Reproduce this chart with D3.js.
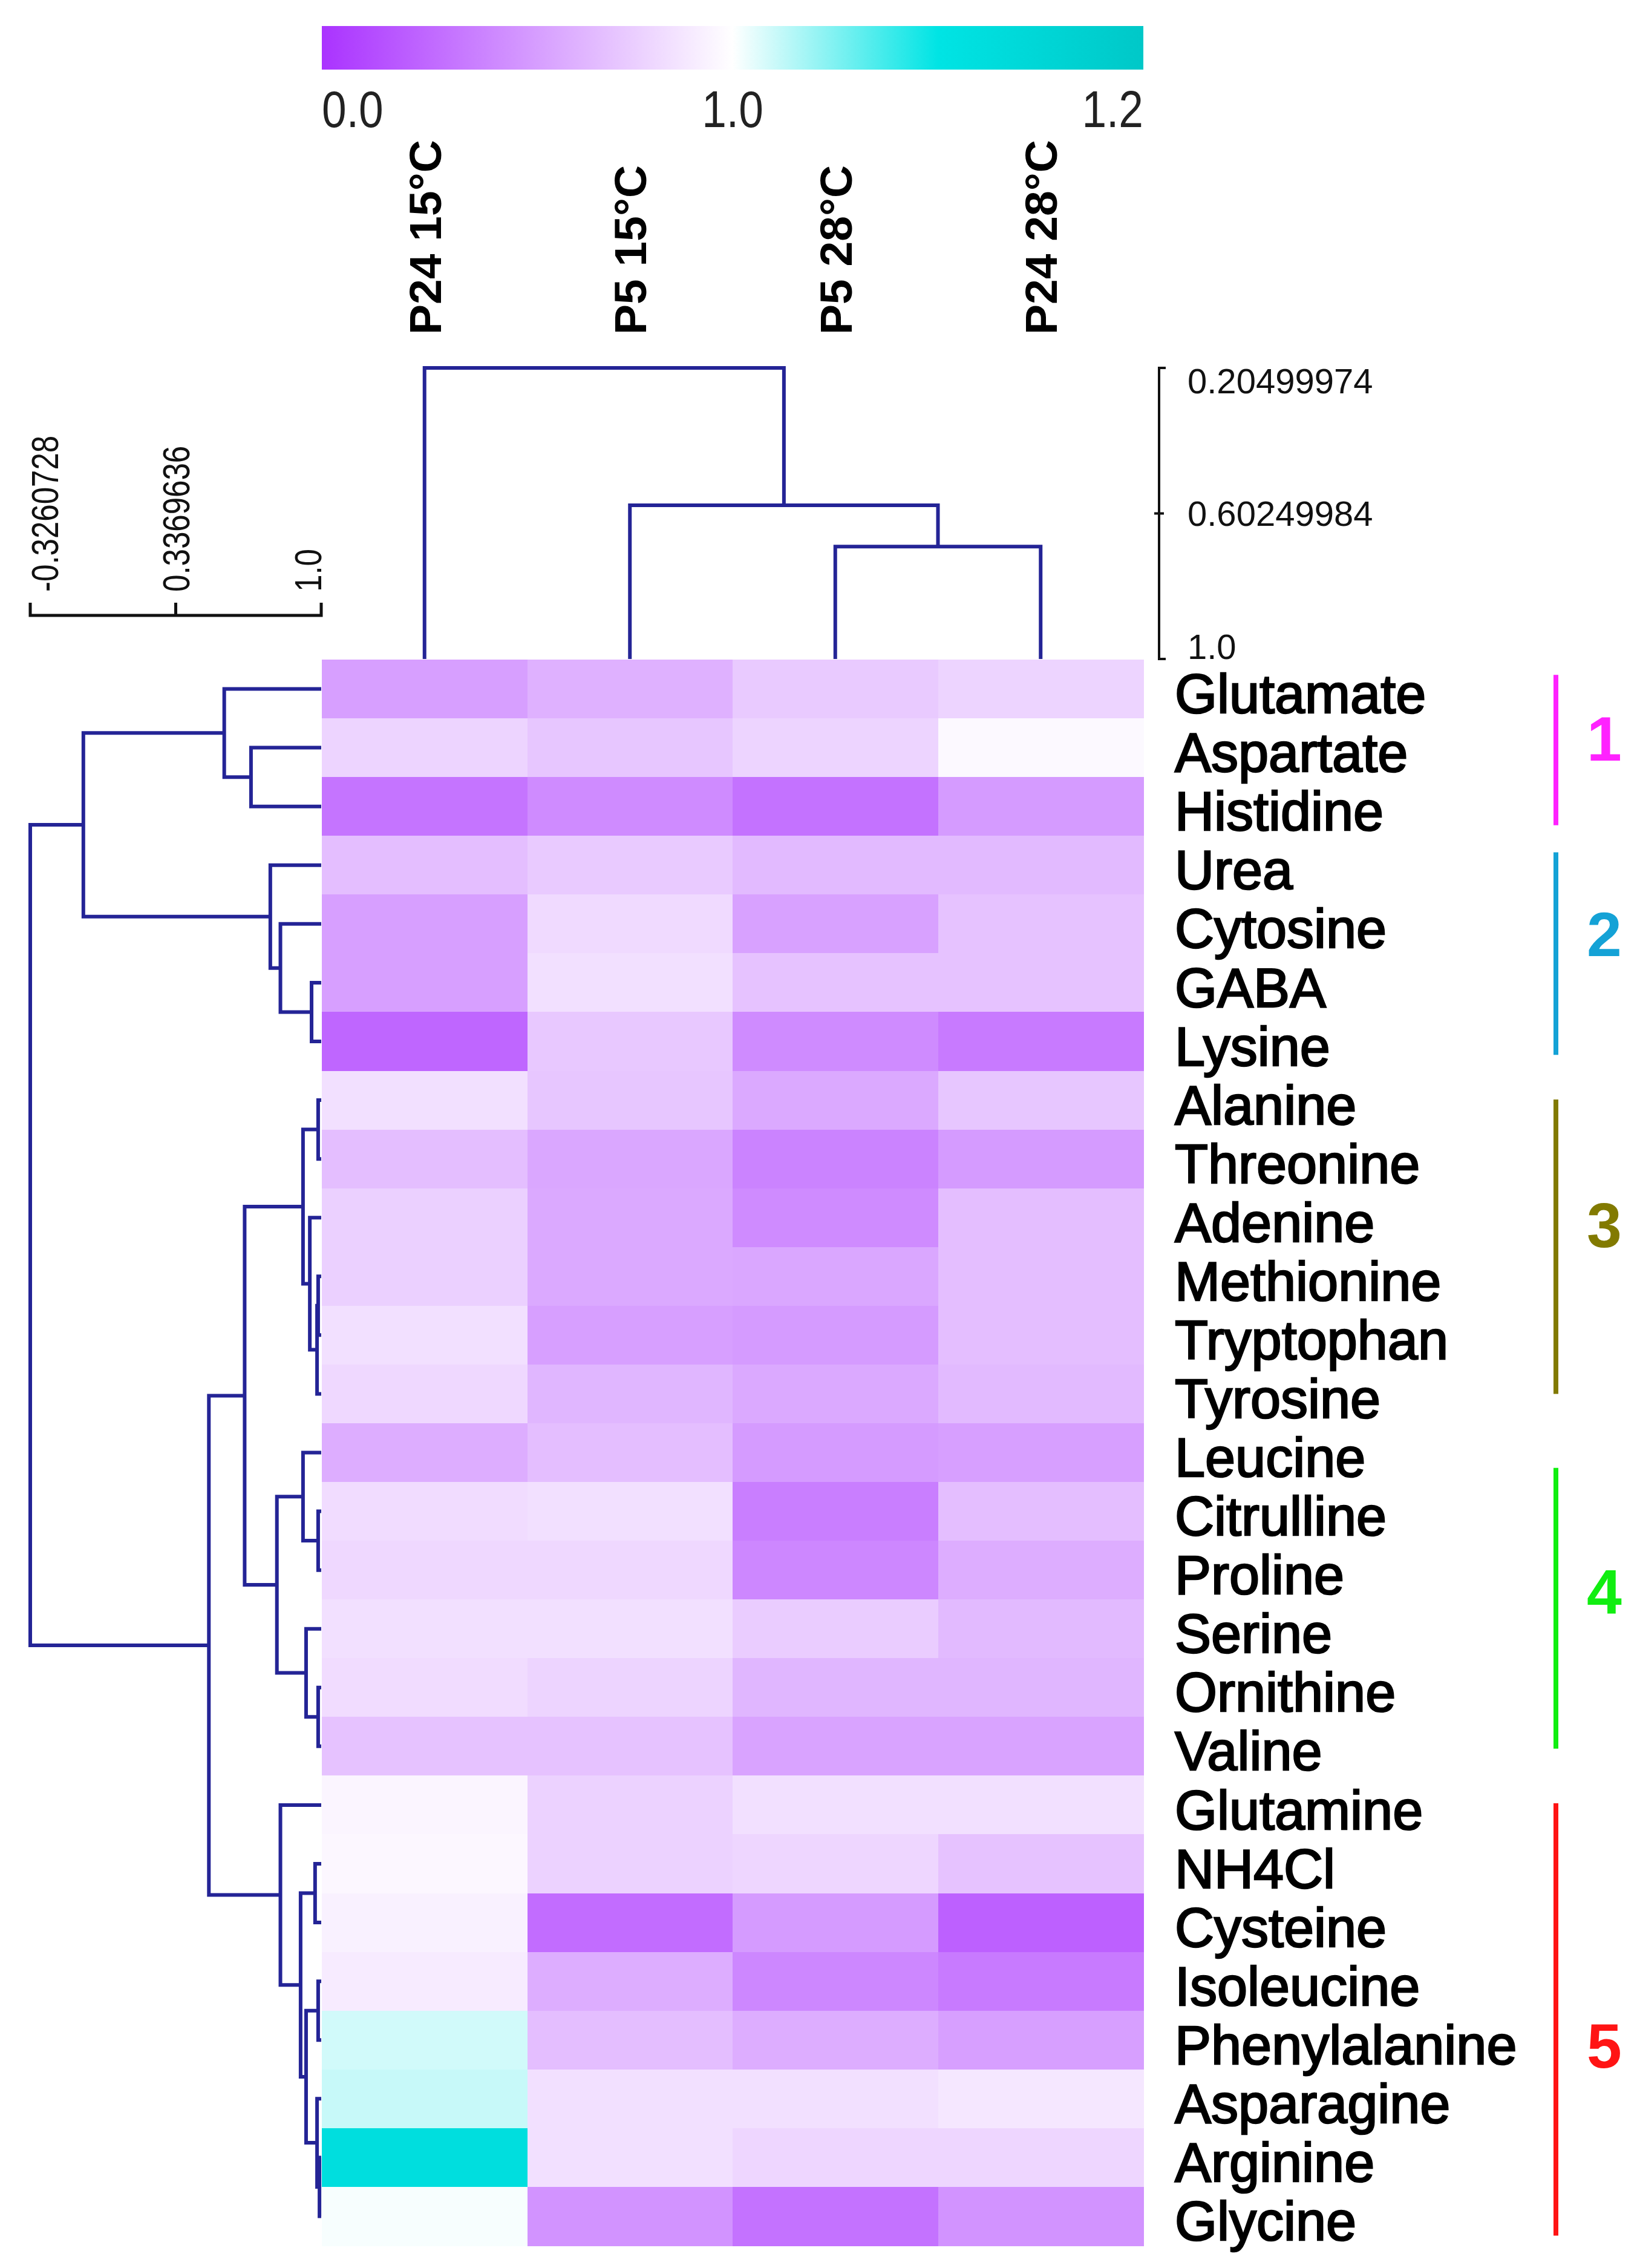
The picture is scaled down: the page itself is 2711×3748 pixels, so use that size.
<!DOCTYPE html>
<html><head><meta charset="utf-8">
<script src="https://cdn.jsdelivr.net/npm/d3@7/dist/d3.min.js"></script>
<style>body{margin:0;background:#fff} svg{display:block}</style>
</head><body>
<svg id="chart" width="2711" height="3748"></svg>
<script>
// ---------------- DATA ----------------
const rowLabels = ["Glutamate","Aspartate","Histidine","Urea","Cytosine","GABA","Lysine",
  "Alanine","Threonine","Adenine","Methionine","Tryptophan","Tyrosine",
  "Leucine","Citrulline","Proline","Serine","Ornithine","Valine",
  "Glutamine","NH4Cl","Cysteine","Isoleucine","Phenylalanine","Asparagine","Arginine","Glycine"];
const colLabels = ["P24 15°C","P5 15°C","P5 28°C","P24 28°C"];

const valuesP24_15 = [0.53,0.79,0.32,0.68,0.53,0.53,0.25,0.85,0.68,0.77,0.77,0.85,0.81,0.60,0.83,0.81,0.85,0.83,0.70,0.95,0.96,0.93,0.90,1.018,1.022,1.12,1.003];
const valuesP5_15  = [0.62,0.72,0.43,0.74,0.82,0.85,0.73,0.72,0.57,0.58,0.58,0.53,0.64,0.68,0.85,0.81,0.85,0.79,0.70,0.78,0.78,0.28,0.60,0.68,0.85,0.85,0.47];
const valuesP5_28  = [0.74,0.79,0.31,0.66,0.54,0.70,0.43,0.58,0.39,0.43,0.57,0.51,0.58,0.51,0.37,0.41,0.75,0.64,0.55,0.85,0.80,0.51,0.41,0.60,0.85,0.80,0.31];
const valuesP24_28 = [0.79,0.97,0.51,0.66,0.70,0.70,0.35,0.72,0.51,0.68,0.68,0.68,0.66,0.53,0.68,0.60,0.66,0.64,0.55,0.85,0.70,0.22,0.35,0.53,0.88,0.80,0.47];
const seriesValues = [valuesP24_15, valuesP5_15, valuesP5_28, valuesP24_28];

const colorDomain = [0, 1.0, 1.1, 1.2];
const colorRange  = ["#aa33ff", "#ffffff", "#00e4e4", "#00c8c8"];
const colorbarTickValues = [0, 1.0, 1.2];
const colorbarTickLabels = ["0.0", "1.0", "1.2"];

const rowTreeTicks = [-0.3260728, 0.3369636, 1.0];
const rowTreeTickLabels = ["-0.3260728", "0.3369636", "1.0"];
const colTreeTicks = [0.20499974, 0.60249984, 1.0];
const colTreeTickLabels = ["0.20499974", "0.60249984", "1.0"];

// dendrograms: [mergeHeight, left, right]; leaves are names
const rowTree = [-0.3260728,
  [-0.084,
    [0.558, "Glutamate", [0.680, "Aspartate", "Histidine"]],
    [0.768, "Urea", [0.814, "Cytosine", [0.956, "GABA", "Lysine"]]]
  ],
  [0.488,
    [0.651,
      [0.917, [0.986, "Alanine", "Threonine"], [0.948, "Adenine", [0.981, [0.986, "Methionine", "Tryptophan"], "Tyrosine"]]],
      [0.798, [0.917, "Leucine", [0.986, "Citrulline", "Proline"]], [0.931, "Serine", [0.986, "Ornithine", "Valine"]]]
    ],
    [0.814, "Glutamine", [0.906, [0.972, "NH4Cl", "Cysteine"],
      [0.931, [0.986, "Isoleucine", "Phenylalanine"], [0.981, "Asparagine", [0.992, "Arginine", "Glycine"]]]]]
  ]
];
const colTree = [0.20499974, "P24 15°C", [0.580, "P5 15°C", [0.693, "P5 28°C", "P24 28°C"]]];

const clusterNames  = ["1","2","3","4","5"];
const clusterColors = ["#ff22ff","#14a2d6","#827a00","#11ee11","#ff1414"];
const clusterSpans  = [[0.26,2.82],[3.28,6.73],[7.49,12.5],[13.76,18.54],[19.47,26.83]];
const clusterLabelRows = [0.83, 4.16, 9.12, 15.36, 23.09];

// ---------------- CHART ----------------
const svg = d3.select("#chart");
svg.append("rect").attr("width",2711).attr("height",3748).attr("fill","#fff");
const FONT = "'Liberation Sans', Arial, sans-serif";
const treeColor = "#242496";

const x = d3.scaleBand().domain(colLabels).range([532, 1890]);
const y = d3.scaleBand().domain(rowLabels).range([1090, 3711]);
const rowIdx = d3.scaleLinear().domain([0, rowLabels.length]).range([1090, 3711]);
const color = d3.scaleLinear().domain(colorDomain).range(colorRange).clamp(true);
const barPos = d3.scaleLinear().domain([0, 1.0, 1.2]).range([532, 1211, 1890]);
const rowTreeX = d3.scaleLinear().domain([-0.3260728, 1.0]).range([50, 531]);
const colTreeY = d3.scaleLinear().domain([0.20499974, 1.0]).range([608, 1089]);

// color bar
const defs = svg.append("defs");
const grad = defs.append("linearGradient").attr("id","cbar").attr("x1","0%").attr("x2","100%");
colorDomain.forEach(v => {
  grad.append("stop").attr("offset", ((barPos(v)-532)/(1890-532)*100) + "%").attr("stop-color", color(v));
});
svg.append("rect").attr("x", barPos(0)).attr("y", 43).attr("width", barPos(1.2)-barPos(0)).attr("height", 72)
  .attr("fill","url(#cbar)");
colorbarTickValues.forEach((v,i) => {
  const anchor = i===0 ? "start" : (i===colorbarTickValues.length-1 ? "end" : "middle");
  svg.append("text").attr("transform", `translate(${barPos(v)},210) scale(0.85,1)`)
    .attr("text-anchor", anchor).attr("font-family", FONT).attr("font-size", 86).attr("fill","#222")
    .text(colorbarTickLabels[i]);
});

// heatmap
const cells = [];
rowLabels.forEach((r, ri) => colLabels.forEach((c, ci) => cells.push({r, c, v: seriesValues[ci][ri]})));
svg.append("g").attr("shape-rendering","crispEdges").selectAll("rect").data(cells).join("rect")
  .attr("x", d => x(d.c)).attr("y", d => y(d.r))
  .attr("width", x.bandwidth()+0.5).attr("height", y.bandwidth()+0.5)
  .attr("fill", d => color(d.v));

// dendrogram builder
function buildTree(node, leafPos, segs) {
  if (typeof node === "string") return {pos: leafPos(node), h: 1.0};
  const [h, a, b] = node;
  const A = buildTree(a, leafPos, segs), B = buildTree(b, leafPos, segs);
  segs.push({A, B, h});
  return {pos: (A.pos + B.pos)/2, h};
}
const rowSegs = [];
buildTree(rowTree, n => y(n) + y.bandwidth()/2, rowSegs);
svg.append("g").selectAll("path").data(rowSegs).join("path")
  .attr("d", s => `M${rowTreeX(s.A.h)},${s.A.pos}H${rowTreeX(s.h)}V${s.B.pos}H${rowTreeX(s.B.h)}`)
  .attr("fill","none").attr("stroke", treeColor).attr("stroke-width", 6);

const colSegs = [];
buildTree(colTree, n => x(n) + x.bandwidth()/2, colSegs);
svg.append("g").selectAll("path").data(colSegs).join("path")
  .attr("d", s => `M${s.A.pos},${colTreeY(s.A.h)}V${colTreeY(s.h)}H${s.B.pos}V${colTreeY(s.B.h)}`)
  .attr("fill","none").attr("stroke", treeColor).attr("stroke-width", 6);

// row tree scale (top-left)
const lsY = 1017;
const lsg = svg.append("g").attr("stroke","#111").attr("stroke-width",5).attr("fill","none");
lsg.append("path").attr("d", `M${rowTreeX(rowTreeTicks[0])},${lsY-21}V${lsY}H${rowTreeX(rowTreeTicks[2])}V${lsY-21}`);
lsg.append("path").attr("d", `M${rowTreeX(rowTreeTicks[1])},${lsY}V${lsY-21}`);
const dyRot = ["0.72em","0.36em","0em"];
rowTreeTicks.forEach((v,i) => {
  svg.append("text").attr("transform", `translate(${rowTreeX(v)},978) rotate(-90) scale(0.88,1.1)`)
    .attr("dy", dyRot[i]).attr("text-anchor","start")
    .attr("font-family", FONT).attr("font-size", 58).attr("fill","#111").text(rowTreeTickLabels[i]);
});

// column tree scale (right)
const csX = 1916;
const csg = svg.append("g").attr("stroke","#111").attr("stroke-width",4).attr("fill","none");
csg.append("path").attr("d", `M${csX+11},${colTreeY(colTreeTicks[0])}H${csX}V${colTreeY(colTreeTicks[2])}H${csX+11}`);
csg.append("path").attr("d", `M${csX-8},${colTreeY(colTreeTicks[1])}H${csX+8}`);
colTreeTicks.forEach((v,i) => {
  svg.append("text").attr("x", 1963).attr("y", colTreeY(v)).attr("dy", dyRot[i])
    .attr("font-family", FONT).attr("font-size", 58).attr("fill","#111").text(colTreeTickLabels[i]);
});

// column labels
svg.append("g").selectAll("text").data(colLabels).join("text")
  .attr("transform", d => `translate(${x(d)+x.bandwidth()/2},553) rotate(-90)`)
  .attr("dy","0.36em").attr("text-anchor","start")
  .attr("font-family", FONT).attr("font-weight","bold").attr("font-size", 75).attr("fill","#000")
  .text(d => d);

// row labels
svg.append("g").selectAll("text").data(rowLabels).join("text")
  .attr("x", 1942).attr("y", d => y(d) + y.bandwidth()/2).attr("dy","0.44em")
  .attr("font-family", FONT).attr("font-size", 90).attr("fill","#000")
  .attr("stroke","#000").attr("stroke-width",2.5)
  .text(d => d);

// cluster bars and numbers
clusterNames.forEach((nm, i) => {
  svg.append("line").attr("x1", 2572).attr("x2", 2572)
    .attr("y1", rowIdx(clusterSpans[i][0])).attr("y2", rowIdx(clusterSpans[i][1]))
    .attr("stroke", clusterColors[i]).attr("stroke-width", 8);
  svg.append("text").attr("x", 2652).attr("y", rowIdx(clusterLabelRows[i] + 0.5)).attr("dy","0.36em")
    .attr("text-anchor","middle").attr("font-family", FONT).attr("font-weight","bold")
    .attr("font-size", 104).attr("fill", clusterColors[i]).text(nm);
});
</script>
</body></html>
